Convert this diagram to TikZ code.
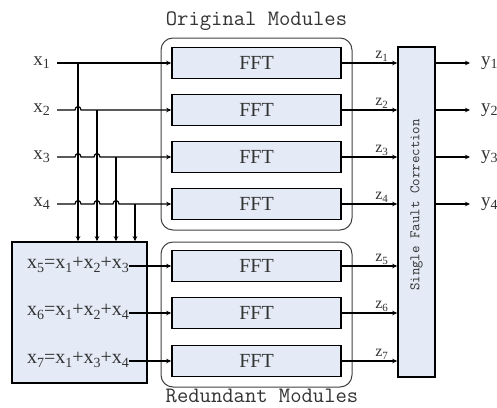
\documentclass[tikz,border=0pt]{standalone}
\usepackage{fontspec}
\setmainfont{Liberation Serif}
\usetikzlibrary{arrows.meta}
\definecolor{boxfill}{HTML}{E4EBF6}
\definecolor{txt}{HTML}{333333}
\newcommand{\sbs}[2][14]{\raisebox{-0.35ex}{\fontsize{#1}{#1}\selectfont #2}}
\begin{document}
\begin{tikzpicture}[x=1pt,y=-1pt,
  fft/.style={draw, line width=1.6pt, fill=boxfill, minimum width=169pt, minimum height=31pt, inner sep=0pt, font=\fontsize{20}{20}\selectfont, text=txt},
  grp/.style={draw, line width=1pt, rounded corners=12pt, draw=black!75, inner sep=0pt},
  conn/.style={line width=1.2pt, -{Stealth[length=5pt,width=4.5pt]}},
  lbl/.style={font=\fontsize{19}{19}\selectfont, text=txt, inner ysep=0pt},
  eq/.style={font=\fontsize{20}{20}\selectfont, text=txt, inner sep=0pt},
  zl/.style={font=\fontsize{16}{16}\selectfont, text=txt, inner sep=1pt},
  ttl/.style={font=\ttfamily\fontsize{22}{22}\selectfont, text=txt, inner sep=0pt},
  bigbox/.style={draw, line width=1.6pt, fill=boxfill, inner sep=0pt}
]
\useasboundingbox (0,0) rectangle (497,407);

% group frames
\node[grp, minimum width=191pt, minimum height=192pt] (orig) at (256.5,134) {};
\node[grp, minimum width=191pt, minimum height=145pt] (red) at (256.5,314.5) {};
\node[ttl] (torig) at (256.5,21) {Original Modules};
\node[ttl] (tred) at (262,396) {Redundant Modules};

% FFT boxes
\node[fft] (f1) at (256.5,63) {FFT};
\node[fft] (f2) at (256.5,110) {FFT};
\node[fft] (f3) at (256.5,157) {FFT};
\node[fft] (f4) at (256.5,204) {FFT};
\node[fft] (f5) at (256.5,266) {FFT};
\node[fft] (f6) at (256.5,313) {FFT};
\node[fft] (f7) at (256.5,361) {FFT};

% combination box
\node[bigbox, minimum width=135pt, minimum height=141pt] (comb) at (79.5,312.5) {};
\node[eq] (e5) at (78,265) {x\sbs{5}=x\sbs{1}+x\sbs{2}+x\sbs{3}};
\node[eq] (e6) at (78,312) {x\sbs{6}=x\sbs{1}+x\sbs{2}+x\sbs{4}};
\node[eq] (e7) at (78,360) {x\sbs{7}=x\sbs{1}+x\sbs{3}+x\sbs{4}};

% correction box
\node[bigbox, minimum width=37pt, minimum height=330pt] (corr) at (416.5,212) {};
\node[rotate=90, font=\ttfamily\fontsize{14.5}{15}\selectfont, text=txt, inner sep=0pt] (ctxt) at (416.5,205) {Single Fault Correction};

% input labels
\node[lbl, anchor=east, inner xsep=7pt] (lx1) at (57,63) {x\sbs{1}};
\node[lbl, anchor=east, inner xsep=7pt] (lx2) at (57,110) {x\sbs{2}};
\node[lbl, anchor=east, inner xsep=7pt] (lx3) at (57,157) {x\sbs{3}};
\node[lbl, anchor=east, inner xsep=7pt] (lx4) at (57,204) {x\sbs{4}};

% branch points
\coordinate (t1) at (78,63);
\coordinate (t2) at (97,110);
\coordinate (t3) at (116,157);
\coordinate (t4) at (135,204);

% inputs to FFTs (with hops over the vertical wires)
\draw[conn] (lx1.east) -- (f1.west);
\draw[conn] (lx2.east) -- (75,110) .. controls (75,105.5) and (81,105.5) .. (81,110) -- (f2.west);
\draw[conn] (lx3.east) -- (75,157) .. controls (75,152.5) and (81,152.5) .. (81,157)
   -- (94,157) .. controls (94,152.5) and (100,152.5) .. (100,157) -- (f3.west);
\draw[conn] (lx4.east) -- (75,204) .. controls (75,199.5) and (81,199.5) .. (81,204)
   -- (94,204) .. controls (94,199.5) and (100,199.5) .. (100,204)
   -- (113,204) .. controls (113,199.5) and (119,199.5) .. (119,204) -- (f4.west);

% vertical wires into combination box
\draw[conn] (t1) -- (t1 |- comb.north);
\draw[conn] (t2) -- (t2 |- comb.north);
\draw[conn] (t3) -- (t3 |- comb.north);
\draw[conn] (t4) -- (t4 |- comb.north);

% redundant inputs
\draw[conn] (e5.east |- f5.west) -- (f5.west);
\draw[conn] (e6.east |- f6.west) -- (f6.west);
\draw[conn] (e7.east |- f7.west) -- (f7.west);

% FFT outputs to correction
\foreach \i in {1,...,7}{
  \draw[conn] (f\i.east) -- (f\i.east -| corr.west)
    node[zl, pos=0.72, above] (z\i) {z\sbs[11]{\i}};
}

% outputs
\foreach \i/\yy in {1/63,2/110,3/157,4/204}{
  \node[lbl, anchor=west, inner xsep=11pt] (ly\i) at (470,\yy) {y\sbs{\i}};
  \draw[conn] (corr.east |- f\i) -- (ly\i.west);
}
\end{tikzpicture}
\end{document}
